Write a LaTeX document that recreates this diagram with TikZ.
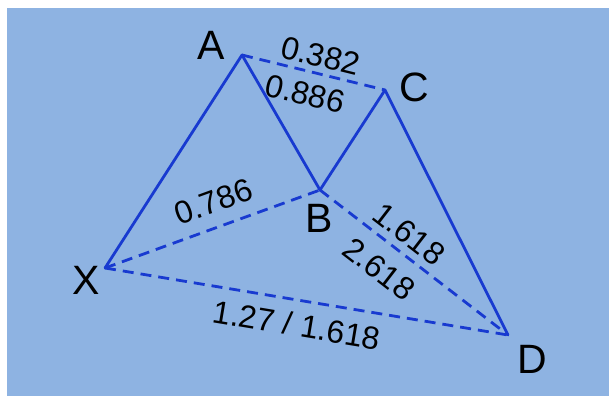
\documentclass[tikz,border=0pt]{standalone}
\usepackage{fontspec}
\setmainfont{Liberation Sans}
\usepackage{tikz}
\usetikzlibrary{positioning}

\definecolor{bgblue}{RGB}{142,179,226}
\definecolor{legblue}{RGB}{24,58,208}

\begin{document}
\begin{tikzpicture}[
        x=1pt, y=-1pt,
        leg/.style={draw=legblue, line width=2.8pt, line join=round, line cap=round},
        ratio/.style={leg, line cap=butt, dash pattern=on 11pt off 7pt},
        ptlabel/.style={font=\fontsize{41}{41}\selectfont, inner sep=0pt, text=black},
        ratiolabel/.style={font=\fontsize{32}{32}\selectfont, inner sep=0pt, text=black, sloped},
    ]
    \useasboundingbox (0,0) rectangle (609,396);
    \fill[bgblue] (7,8) rectangle (609,396);

    % pattern points
    \coordinate (X) at (105,268);
    \coordinate (A) at (242,55);
    \coordinate (B) at (320,190);
    \coordinate (C) at (385,90);
    \coordinate (D) at (508,335);

    \node[ptlabel] (lX) at (86,280)  {X};
    \node[ptlabel] (lA) at (211,45)  {A};
    \node[ptlabel] (lB) at (319,218) {B};
    \node[ptlabel] (lC) at (414,87)  {C};
    \node[ptlabel] (lD) at (532,359) {D};

    % ratio legs
    \draw[ratio] (A) -- node[ratiolabel, pos=0.52, above=5pt] (rAC) {0.382}
                        node[ratiolabel, pos=0.48, below=10pt] (rBC) {0.886} (C);
    \draw[ratio] (X) -- node[ratiolabel, pos=0.545, above=13pt] (rXB) {0.786} (B);
    \draw[ratio] (B) -- node[ratiolabel, pos=0.41, above=7pt] (rBD1) {1.618}
                        node[ratiolabel, pos=0.40, below=13.5pt] (rBD2) {2.618} (D);
    \draw[ratio] (X) -- node[ratiolabel, pos=0.486, below=11.5pt] (rXD) {1.27 / 1.618} (D);

    % price legs
    \draw[leg] (X) -- (A) -- (B) -- (C) -- (D);
\end{tikzpicture}
\end{document}
